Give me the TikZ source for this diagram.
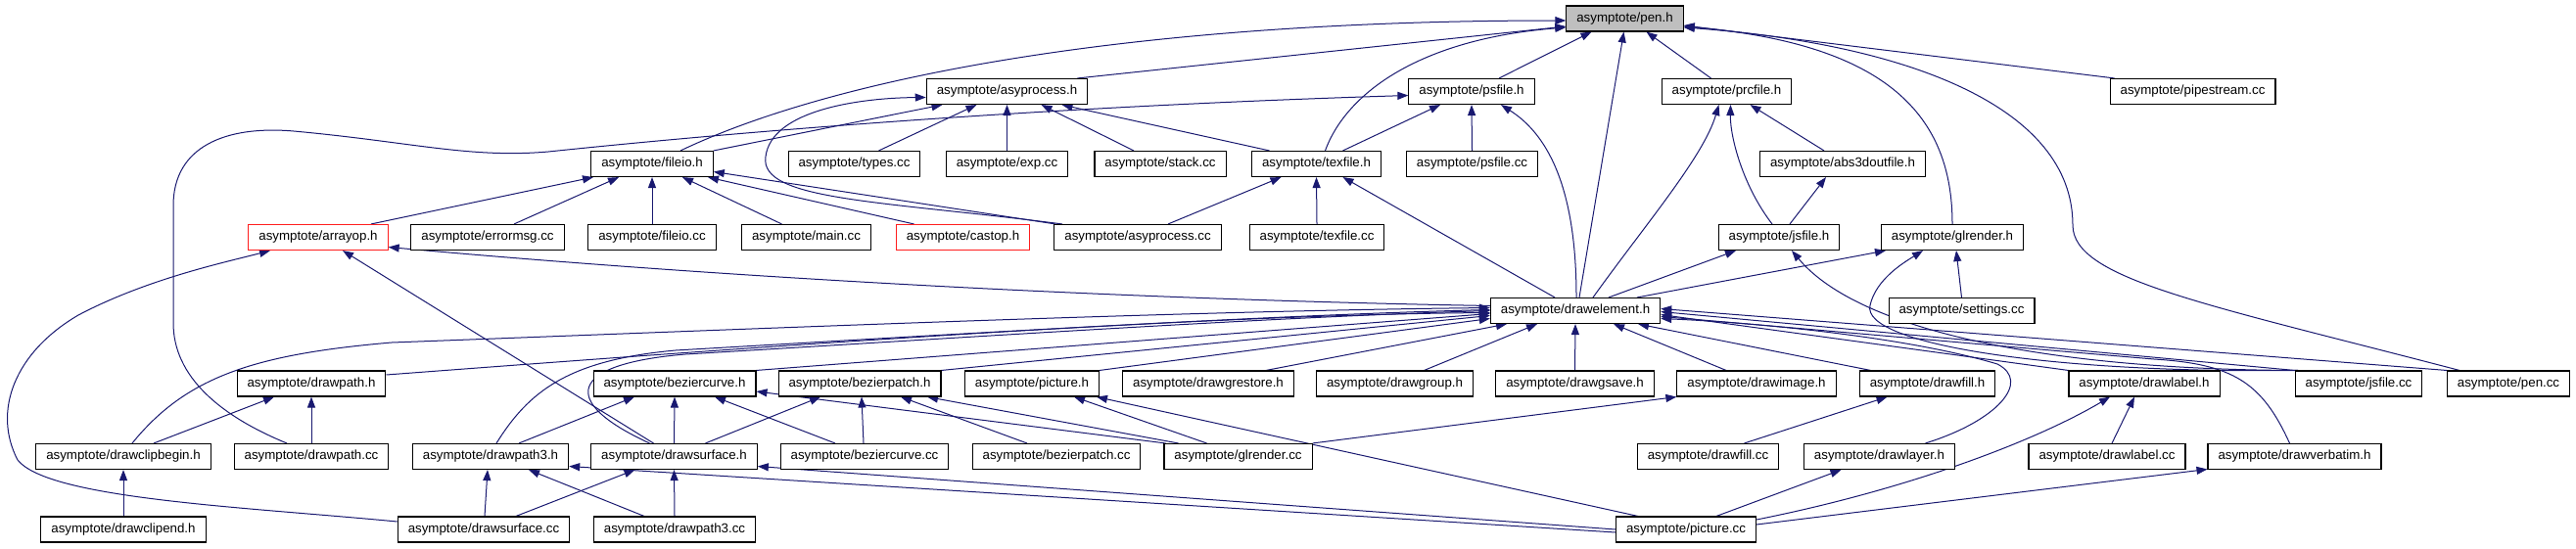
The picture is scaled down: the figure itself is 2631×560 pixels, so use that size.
\documentclass[tikz,border=0pt]{standalone}
\usepackage{fontspec}
\setmainfont{Liberation Sans}
\usepackage{tikz}
\usetikzlibrary{arrows.meta}
\definecolor{edgeblue}{RGB}{25,25,112}
\definecolor{rootgrey}{RGB}{191,191,191}
\definecolor{cutred}{RGB}{255,30,30}
\pgfdeclarelayer{bg}
\pgfdeclarelayer{edges}
\pgfsetlayers{bg,edges,main}

\begin{document}
\begin{tikzpicture}[
  x=1pt, y=-1pt,
  inc/.style={rectangle, draw=black, fill=white, line width=1.1pt, inner xsep=10.5pt, inner ysep=0pt, minimum height=26pt, font=\fontsize{13.3pt}{16pt}\selectfont},
  root/.style={inc, fill=rootgrey},
  cut/.style={inc, draw=cutred},
  uses/.style={draw=edgeblue, line width=1pt, -{Triangle[length=11pt,width=8pt]}}
]
  \begin{pgfonlayer}{bg}
    \fill[white] (0,0) rectangle (2631,560);
  \end{pgfonlayer}
  \useasboundingbox (0,0) rectangle (2631,560);

  % row 1 to 4
  \node[root] (penh) at (1659.5,19) {asymptote/pen.h};
  \node[inc] (asyprocessh) at (1028.5,93.5) {asymptote/asyprocess.h};
  \node[inc] (psfileh) at (1503,93.5) {asymptote/psfile.h};
  \node[inc] (prcfileh) at (1763.5,93.5) {asymptote/prcfile.h};
  \node[inc] (pipestreamcc) at (2239.5,93.5) {asymptote/pipestream.cc};
  \node[inc] (fileioh) at (666,167.5) {asymptote/fileio.h};
  \node[inc] (typescc) at (872.5,167.5) {asymptote/types.cc};
  \node[inc] (expcc) at (1028.5,167.5) {asymptote/exp.cc};
  \node[inc] (stackcc) at (1185,167.5) {asymptote/stack.cc};
  \node[inc] (texfileh) at (1344.5,167.5) {asymptote/texfile.h};
  \node[inc] (psfilecc) at (1503.5,167.5) {asymptote/psfile.cc};
  \node[inc] (abs3doutfileh) at (1882,167.5) {asymptote/abs3doutfile.h};
  \node[cut] (arrayoph) at (325,242.5) {asymptote/arrayop.h};
  \node[inc] (errormsgcc) at (498,242.5) {asymptote/errormsg.cc};
  \node[inc] (fileiocc) at (666,242.5) {asymptote/fileio.cc};
  \node[inc] (maincc) at (823.5,242.5) {asymptote/main.cc};
  \node[cut] (castoph) at (983.5,242.5) {asymptote/castop.h};
  \node[inc] (asyprocesscc) at (1162,242.5) {asymptote/asyprocess.cc};
  \node[inc] (texfilecc) at (1345,242.5) {asymptote/texfile.cc};
  \node[inc] (jsfileh) at (1817,242.5) {asymptote/jsfile.h};
  \node[inc] (glrenderh) at (1994,242.5) {asymptote/glrender.h};

  % row 5 to 8
  \node[inc] (drawelementh) at (1609,317.5) {asymptote/drawelement.h};
  \node[inc] (settingscc) at (2003.5,317.5) {asymptote/settings.cc};
  \node[inc] (drawpathh) at (318,392) {asymptote/drawpath.h};
  \node[inc] (beziercurveh) at (689,392) {asymptote/beziercurve.h};
  \node[inc] (bezierpatchh) at (878,392) {asymptote/bezierpatch.h};
  \node[inc] (pictureh) at (1054,392) {asymptote/picture.h};
  \node[inc] (drawgrestoreh) at (1234,392) {asymptote/drawgrestore.h};
  \node[inc] (drawgrouph) at (1424.5,392) {asymptote/drawgroup.h};
  \node[inc] (drawgsaveh) at (1608.5,392) {asymptote/drawgsave.h};
  \node[inc] (drawimageh) at (1794,392) {asymptote/drawimage.h};
  \node[inc] (drawfillh) at (1968.5,392) {asymptote/drawfill.h};
  \node[inc] (drawlabelh) at (2190,392) {asymptote/drawlabel.h};
  \node[inc] (jsfilecc) at (2409,392) {asymptote/jsfile.cc};
  \node[inc] (pencc) at (2562,392) {asymptote/pen.cc};
  \node[inc] (drawclipbeginh) at (126,466.5) {asymptote/drawclipbegin.h};
  \node[inc] (drawpathcc) at (318,466.5) {asymptote/drawpath.cc};
  \node[inc] (drawpath3h) at (501,466.5) {asymptote/drawpath3.h};
  \node[inc] (drawsurfaceh) at (688.5,466.5) {asymptote/drawsurface.h};
  \node[inc] (beziercurvecc) at (883,466.5) {asymptote/beziercurve.cc};
  \node[inc] (bezierpatchcc) at (1079,466.5) {asymptote/bezierpatch.cc};
  \node[inc] (glrendercc) at (1264.5,466.5) {asymptote/glrender.cc};
  \node[inc] (drawfillcc) at (1744.5,466.5) {asymptote/drawfill.cc};
  \node[inc] (drawlayerh) at (1919.5,466.5) {asymptote/drawlayer.h};
  \node[inc] (drawlabelcc) at (2152,466.5) {asymptote/drawlabel.cc};
  \node[inc] (drawverbatimh) at (2343.5,466.5) {asymptote/drawverbatim.h};
  \node[inc] (drawclipendh) at (126,541) {asymptote/drawclipend.h};
  \node[inc] (drawsurfacecc) at (494,541) {asymptote/drawsurface.cc};
  \node[inc] (drawpath3cc) at (689,541) {asymptote/drawpath3.cc};
  \node[inc] (picturecc) at (1722,541) {asymptote/picture.cc};

  \begin{pgfonlayer}{edges}
  % into pen.h
  \draw[uses] ([xshift=72pt]asyprocessh.north) -- ([yshift=-8pt]penh.west);
  \draw[uses] ([xshift=29pt]fileioh.north) .. controls (850,80) and (1150,21) .. ([yshift=-2pt]penh.west);
  \draw[uses] ([xshift=28pt]psfileh.north) -- ([xshift=-34pt]penh.south);
  \draw[uses] ([xshift=9pt]texfileh.north) .. controls (1375,95) and (1450,40) .. ([yshift=-9pt]penh.west);
  \draw[uses] ([xshift=4pt]drawelementh.north) -- ([xshift=-1pt]penh.south);
  \draw[uses] ([xshift=-16pt]prcfileh.north) -- ([xshift=22pt]penh.south);
  \draw[uses] (glrenderh.north) .. controls (1994,120) and (1930,45) .. ([yshift=-8pt]penh.east);
  \draw[uses] ([xshift=-80pt]pipestreamcc.north) -- ([yshift=-7pt]penh.east);
  \draw[uses] ([xshift=-50pt]pencc.north) .. controls (2250,310) and (2117,285) .. (2117,230) .. controls (2117,110) and (1950,45) .. ([yshift=-9pt]penh.east);

  % into asyprocess.h, psfile.h, prcfile.h
  \draw[uses] (fileioh.north east) -- ([xshift=-66pt]asyprocessh.south);
  \draw[uses] ([xshift=25pt]typescc.north) -- ([xshift=-31pt]asyprocessh.south);
  \draw[uses] (expcc.north) -- (asyprocessh.south);
  \draw[uses] ([xshift=-27pt]stackcc.north) -- ([xshift=35pt]asyprocessh.south);
  \draw[uses] ([xshift=-48pt]texfileh.north) -- ([xshift=56pt]asyprocessh.south);
  \draw[uses] ([xshift=-77pt]asyprocesscc.north) .. controls (900,205) and (775,205) .. (782,160) .. controls (788,112) and (880,100) .. ([yshift=-6pt]asyprocessh.west);
  \draw[uses] (psfilecc.north) -- (psfileh.south);
  \draw[uses] ([xshift=27pt]texfileh.north) -- ([xshift=-32pt]psfileh.south);
  \draw[uses] ([xshift=-25pt]drawpathcc.north) .. controls (225,425) and (177,385) .. (177,330) -- (177,210) .. controls (177,150) and (230,128) .. (300,134) .. controls (420,145) and (480,162) .. (560,155) .. controls (800,130) and (1100,108) .. ([yshift=-4pt]psfileh.west);
  \draw[uses] ([xshift=1pt]drawelementh.north) .. controls (1610,200) and (1585,140) .. ([xshift=30pt]psfileh.south);
  \draw[uses] ([xshift=18pt]drawelementh.north) .. controls (1680,230) and (1740,160) .. ([xshift=-8pt]prcfileh.south);
  \draw[uses] ([xshift=-7pt]jsfileh.north) .. controls (1780,190) and (1767,140) .. ([xshift=4pt]prcfileh.south);
  \draw[uses] ([xshift=-19pt]abs3doutfileh.north) -- ([xshift=24pt]prcfileh.south);

  % into fileio.h, texfile.h, jsfile.h, glrender.h, abs3doutfile.h
  \draw[uses] ([xshift=54pt]arrayoph.north) -- ([xshift=-60pt]fileioh.south);
  \draw[uses] ([xshift=27pt]errormsgcc.north) -- ([xshift=-34pt]fileioh.south);
  \draw[uses] (fileiocc.north) -- (fileioh.south);
  \draw[uses] ([xshift=-25pt]maincc.north) -- ([xshift=31pt]fileioh.south);
  \draw[uses] ([xshift=-50pt]castoph.north) -- ([xshift=57pt]fileioh.south);
  \draw[uses] ([xshift=-84pt]asyprocesscc.north) -- ([yshift=-8pt]fileioh.east);
  \draw[uses] ([xshift=31pt]asyprocesscc.north) -- ([xshift=-36pt]texfileh.south);
  \draw[uses] (texfilecc.north) -- (texfileh.south);
  \draw[uses] ([xshift=-21pt]drawelementh.north) -- ([xshift=27pt]texfileh.south);
  \draw[uses] ([xshift=11pt]jsfileh.north) -- ([xshift=-17pt]abs3doutfileh.south);
  \draw[uses] ([xshift=34pt]drawelementh.north) -- ([xshift=-44pt]jsfileh.south);
  \draw[uses] ([xshift=-62pt]jsfilecc.north) .. controls (2100,378) and (1900,340) .. ([xshift=13pt]jsfileh.south);
  \draw[uses] ([xshift=63pt]drawelementh.north) -- ([xshift=-68pt]glrenderh.south);
  \draw[uses] ([xshift=-62pt]jsfilecc.north) .. controls (2100,382) and (1900,352) .. (1910,312) .. controls (1916,285) and (1945,268) .. ([xshift=-30pt]glrenderh.south);
  \draw[uses] (settingscc.north) -- ([xshift=4pt]glrenderh.south);

  % into arrayop.h
  \draw[uses] ([yshift=5pt]drawelementh.west) .. controls (1100,305) and (700,280) .. ([yshift=-10pt]arrayoph.east);
  \draw[uses] ([yshift=8pt]drawsurfacecc.west) .. controls (250,518) and (50,510) .. (18,470) .. controls (-8,420) and (15,360) .. (80,322) .. controls (150,285) and (230,268) .. ([xshift=-49pt]arrayoph.south);
  \draw[uses] ([xshift=-21pt]drawsurfaceh.north) -- ([xshift=25pt]arrayoph.south);

  % into drawelement.h
  \draw[uses] ([xshift=9pt]drawclipbeginh.north) .. controls (190,385) and (260,362) .. (400,350) .. controls (800,335) and (1200,318) .. ([yshift=3pt]drawelementh.west);
  \draw[uses] ([yshift=9pt]drawpathh.east) .. controls (700,360) and (1200,322) .. ([yshift=-2pt]drawelementh.west);
  \draw[uses] ([xshift=6pt]drawpath3h.north) .. controls (540,400) and (580,368) .. (690,358) .. controls (1000,340) and (1300,322) .. ([yshift=1pt]drawelementh.west);
  \draw[uses] ([xshift=-25pt]drawsurfaceh.north) .. controls (570,410) and (580,372) .. (700,362) .. controls (1000,344) and (1300,324) .. (drawelementh.west);
  \draw[uses] (beziercurveh.north east) -- ([yshift=-3pt]drawelementh.west);
  \draw[uses] (bezierpatchh.north east) -- ([yshift=-5pt]drawelementh.west);
  \draw[uses] (pictureh.north east) -- ([yshift=-8pt]drawelementh.west);
  \draw[uses] ([xshift=59pt]drawgrestoreh.north) -- ([xshift=-70pt]drawelementh.south);
  \draw[uses] ([xshift=30pt]drawgrouph.north) -- ([xshift=-39pt]drawelementh.south);
  \draw[uses] (drawgsaveh.north) -- (drawelementh.south);
  \draw[uses] ([xshift=-31pt]drawimageh.north) -- ([xshift=39pt]drawelementh.south);
  \draw[uses] ([xshift=-58pt]drawfillh.north) -- ([xshift=64pt]drawelementh.south);
  \draw[uses] ([xshift=47pt]drawlayerh.north) .. controls (2040,430) and (2075,390) .. (2040,372) .. controls (1950,345) and (1800,330) .. ([yshift=-8pt]drawelementh.east);
  \draw[uses] (drawlabelh.north west) -- ([yshift=-4pt]drawelementh.east);
  \draw[uses] (jsfilecc.north west) -- ([yshift=-1pt]drawelementh.east);
  \draw[uses] (pencc.north west) -- ([yshift=2pt]drawelementh.east);
  \draw[uses] ([xshift=-5pt]drawverbatimh.north) .. controls (2310,390) and (2280,372) .. (2200,367) .. controls (2000,350) and (1800,332) .. ([yshift=-6pt]drawelementh.east);

  % lower rows
  \draw[uses] (drawclipendh.north) -- (drawclipbeginh.south);
  \draw[uses] ([xshift=31pt]drawclipbeginh.north) -- ([xshift=-38pt]drawpathh.south);
  \draw[uses] (drawpathcc.north) -- (drawpathh.south);
  \draw[uses] ([xshift=29pt]drawpath3h.north) -- ([xshift=-41pt]beziercurveh.south);
  \draw[uses] (drawsurfaceh.north) -- (beziercurveh.south);
  \draw[uses] ([xshift=32pt]drawsurfaceh.north) -- ([xshift=-40pt]bezierpatchh.south);
  \draw[uses] ([xshift=-30pt]beziercurvecc.north) -- ([xshift=41pt]beziercurveh.south);
  \draw[uses] ([xshift=-1pt]beziercurvecc.north) -- ([xshift=2pt]bezierpatchh.south);
  \draw[uses] ([xshift=-30pt]bezierpatchcc.north) -- ([xshift=42pt]bezierpatchh.south);
  \draw[uses] ([xshift=-61pt]glrendercc.north) -- ([xshift=69pt]bezierpatchh.south);
  \draw[uses] ([xshift=-74pt]glrendercc.north) -- ([yshift=-8pt]beziercurveh.east);
  \draw[uses] ([xshift=-32pt]glrendercc.north) -- ([xshift=43pt]pictureh.south);
  \draw[uses] (glrendercc.north east) -- (drawimageh.south west);
  \draw[uses] ([xshift=-49pt]picturecc.north) -- ([xshift=66pt]pictureh.south);
  \draw[uses] ([xshift=31pt]picturecc.north) -- ([xshift=-39pt]drawlayerh.south);
  \draw[uses] ([xshift=37pt]drawfillcc.north) -- ([xshift=-41pt]drawfillh.south);
  \draw[uses] ([xshift=5pt]drawlabelcc.north) -- ([xshift=-10pt]drawlabelh.south);
  \draw[uses] ([yshift=10pt]picturecc.east) .. controls (1950,500) and (2080,450) .. ([xshift=-35pt]drawlabelh.south);
  \draw[uses] ([yshift=5pt]picturecc.east) -- ([yshift=-13pt]drawverbatimh.west);
  \draw[uses] ([yshift=-3pt]picturecc.west) -- ([yshift=-10pt]drawpath3h.east);
  \draw[uses] (picturecc.west) -- ([yshift=-10pt]drawsurfaceh.east);
  \draw[uses] ([xshift=33pt]drawsurfacecc.north) -- ([xshift=-40pt]drawsurfaceh.south);
  \draw[uses] ([xshift=-31pt]drawpath3cc.north) -- ([xshift=39pt]drawpath3h.south);
  \draw[uses] (drawpath3cc.north) -- (drawsurfaceh.south);
  \draw[uses] ([xshift=1pt]drawsurfacecc.north) -- ([xshift=-3pt]drawpath3h.south);
  \end{pgfonlayer}
\end{tikzpicture}
\end{document}
